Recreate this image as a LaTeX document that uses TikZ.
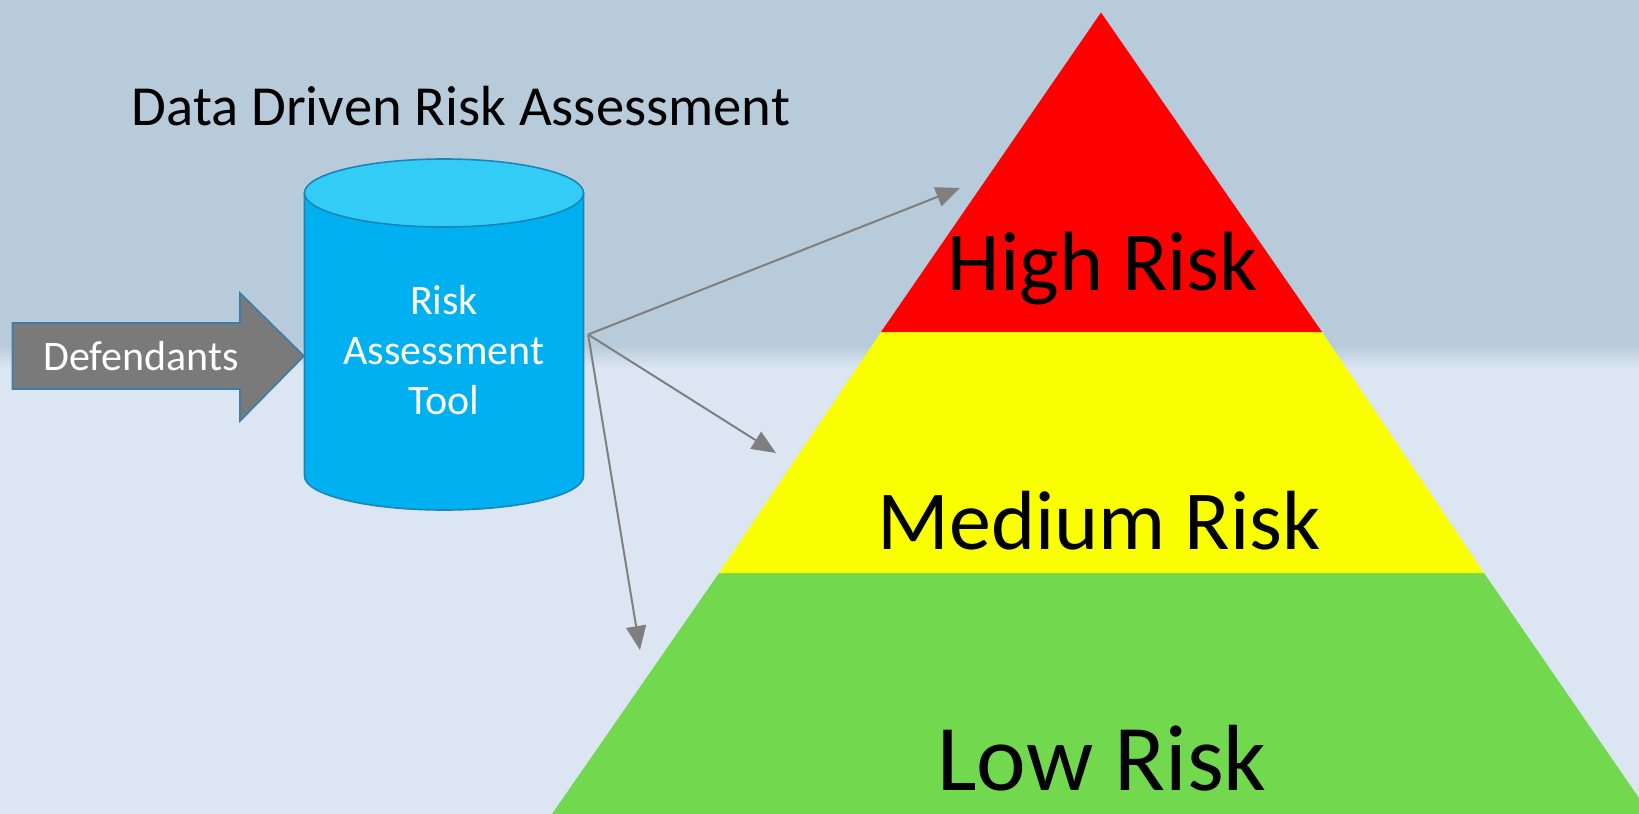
\documentclass[tikz,border=0pt]{standalone}
\usepackage{fontspec}
\setmainfont{Carlito}
\usetikzlibrary{arrows.meta}
\definecolor{bgtop}{HTML}{B8CBDA}
\definecolor{bgbot}{HTML}{DCE6F2}
\definecolor{cylside}{HTML}{00B0F0}
\definecolor{cyltop}{HTML}{33CCF7}
\definecolor{cylline}{HTML}{1A86B8}
\definecolor{defgrey}{HTML}{7A7A7A}
\definecolor{defline}{HTML}{3E7EA6}
\definecolor{riskred}{HTML}{FF0000}
\definecolor{riskyellow}{HTML}{FAFF00}
\definecolor{riskgreen}{HTML}{72D84E}
\definecolor{linkgrey}{HTML}{7F7F7F}
\tikzset{
  whitetext/.style={text=white, font=\fontsize{21}{25}\selectfont, align=center, inner sep=0pt},
  risklabel/.style={text=black, inner sep=0pt, anchor=center},
  link/.style={draw=linkgrey, line width=1pt, -{Triangle[length=12pt,width=10pt]}},
}
\begin{document}
\begin{tikzpicture}[x=0.5pt,y=-0.5pt]
\useasboundingbox (0,0) rectangle (1639,814);
% background
\fill[bgtop] (0,0) rectangle (1639,345);
\shade[top color=bgtop, bottom color=bgbot] (0,345) rectangle (1639,368);
\fill[bgbot] (0,368) rectangle (1639,814);
% title
\node[inner sep=0pt] (title) at (461,106) {\fontsize{28.3}{34}\selectfont Data Driven Risk Assessment};
% pyramid
\fill[riskgreen] (719,573) -- (1484,573) -- (1650,814) -- (552,814) -- cycle;
\fill[riskyellow] (881,332) -- (1322,332) -- (1484,573) -- (719,573) -- cycle;
\fill[riskred] (1101,12.5) -- (1322,332) -- (881,332) -- cycle;
\node[risklabel, font=\fontsize{42}{50}\selectfont] (high) at (1103,269) {High Risk};
\node[risklabel, font=\fontsize{42}{50}\selectfont] (medium) at (1099,521) {Medium Risk};
\node[risklabel, font=\fontsize{47}{56}\selectfont] (low) at (1102,758) {Low Risk};
% cylinder
\filldraw[fill=cylside, draw=cylline, line width=0.8pt]
  (304.5,193) -- (304.5,476) arc[start angle=180, end angle=0, x radius=139.5, y radius=34] -- (583.5,193) -- cycle;
\filldraw[fill=cyltop, draw=cylline, line width=0.8pt] (444,193) ellipse[x radius=139.5, y radius=34];
\node[minimum width=279.5pt/2, minimum height=351pt/2, inner sep=0pt] (tool) at (444,334.5) {};
\node[whitetext] (tooltext) at (444,350) {Risk\\Assessment\\Tool};
% Defendants arrow
\filldraw[fill=defgrey, draw=defline, line width=0.8pt]
  (12.5,323) -- (240,323) -- (240,293) -- (304,356) -- (240,421) -- (240,389) -- (12.5,389) -- cycle;
\node[whitetext] (def) at (141,356) {Defendants};
% connectors
\coordinate (hiend) at (960,188);
\coordinate (miend) at (776,453);
\coordinate (loend) at (640,650);
\coordinate (src) at ([xshift=2pt]tool.east);
\draw[link] (src) -- (hiend);
\draw[link] (src) -- (miend);
\draw[link] (src) -- (loend);
\end{tikzpicture}
\end{document}
